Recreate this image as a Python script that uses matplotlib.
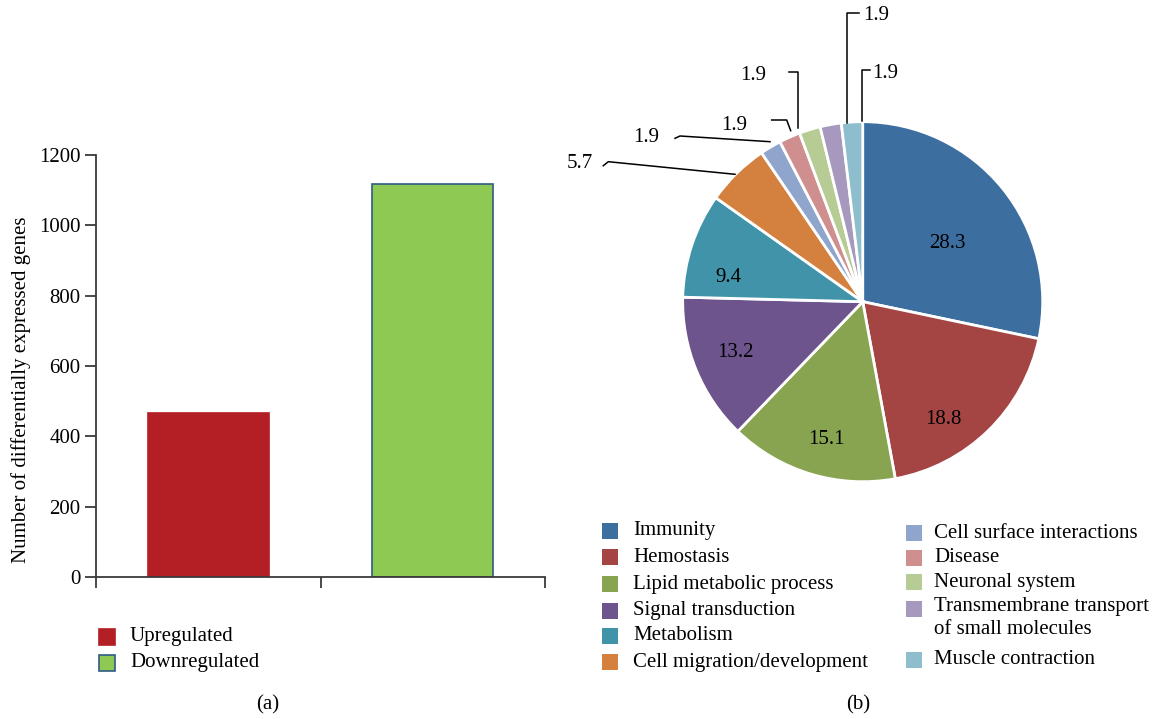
import numpy as np
import matplotlib.pyplot as plt
from matplotlib.patches import Rectangle

plt.rcParams['font.family'] = ['Liberation Serif', 'DejaVu Serif']

W, H = 1162, 719

# panel (a): regulated genes
reg_labels = ['Upregulated', 'Downregulated']
reg_counts = [465, 1117]
reg_colors = ['#b31f25', '#8ec954']
reg_edges = ['#b31f25', '#2f5b88']

# panel (b): pathway categories (%)
pathways = ['Immunity', 'Hemostasis', 'Lipid metabolic process', 'Signal transduction',
            'Metabolism', 'Cell migration/development', 'Cell surface interactions',
            'Disease', 'Neuronal system', 'Transmembrane transport\nof small molecules',
            'Muscle contraction']
pathway_share = [28.3, 18.8, 15.1, 13.2, 9.4, 5.7, 1.9, 1.9, 1.9, 1.9, 1.9]
pathway_colors = ['#3d6ea0', '#a44544', '#88a450', '#6d548c', '#4093a8', '#d48140',
                  '#8fa5cc', '#cf8f8f', '#b6cc94', '#a699bd', '#8ebdce']

FS = 15
AX_COLOR = '#3a3a3a'


def fx(x):
    return x / W


def fy(y):
    return 1 - y / H


fig = plt.figure(figsize=(W / 100, H / 100), dpi=100)

# ---- bar chart ----
ax = fig.add_axes([fx(96), fy(577), fx(545) - fx(96), fy(155) - fy(577)])
ax.bar(range(len(reg_counts)), reg_counts, width=0.54, color=reg_colors,
       edgecolor=reg_edges, linewidth=1.2)
ax.set_xlim(-0.5, 1.5)
ax.set_ylim(0, 1200)
ax.set_yticks(range(0, 1201, 200))
ax.set_xticks([-0.5, 0.5, 1.5])
ax.set_xticklabels([])
for side in ['top', 'right']:
    ax.spines[side].set_visible(False)
for side in ['left', 'bottom']:
    ax.spines[side].set_color(AX_COLOR)
    ax.spines[side].set_linewidth(1.3)
ax.tick_params(axis='both', direction='out', length=8, width=1.3, color=AX_COLOR,
               labelsize=FS, pad=3)
ax.set_ylabel('Number of differentially expressed genes', fontsize=FS)
ax.yaxis.set_label_coords(-0.145, 0.444)

for i, (lab, col, ec) in enumerate(zip(reg_labels, reg_colors, reg_edges)):
    row = 637 + i * 26
    fig.patches.append(Rectangle((fx(99), fy(row + 8)), 16 / W, 16 / H,
                                 transform=fig.transFigure, facecolor=col,
                                 edgecolor=ec, linewidth=1.2))
    fig.text(fx(130), fy(row), lab, fontsize=FS, va='center')
fig.text(fx(268), fy(705), '(a)', fontsize=FS, ha='center', va='center')

# ---- pie chart ----
PX0, PY0, R = 862.7, 301.7, 180.0


def pp(x, y):
    return (x - PX0) / R, (PY0 - y) / R


axp = fig.add_axes([fx(560), fy(500), fx(1162) - fx(560), 500 / H])
axp.pie(pathway_share, colors=pathway_colors, startangle=90, counterclock=False,
        radius=1, wedgeprops=dict(edgecolor='white', linewidth=2))
axp.set_xlim((560 - PX0) / R, (1162 - PX0) / R)
axp.set_ylim((PY0 - 500) / R, PY0 / R)
axp.axis('off')

# labels inside the large wedges (radius fraction, angle)
inner_pos = [(0.57, 34.8), (0.79, -55.6), (0.79, -104.6), (0.76, -158.2), (0.76, 169.8)]
for v, (rf, ang) in zip(pathway_share, inner_pos):
    a = np.deg2rad(ang)
    axp.text(rf * np.cos(a), rf * np.sin(a), f'{v:.1f}', fontsize=FS,
             ha='center', va='center')

# labels with leader lines for the small wedges
outer_text = [(579.5, 163), (645.8, 137), (734, 126), (753, 75), (875.8, 16), (885, 73)]
outer_lines = [
    [(603.3, 165.7), (608.3, 161.7), (735, 174.3)],
    [(675, 138.3), (680, 136), (770, 141.7)],
    [(771.7, 120), (786.7, 120), (790.7, 130.7)],
    [(789.3, 72.3), (798.3, 72.3), (798.3, 128.3)],
    [(859, 13.3), (847.3, 13.3), (847.3, 122.7)],
    [(870, 70), (861.7, 70), (861.7, 120.7)],
]
for v, (tx, ty), line in zip(pathway_share[5:], outer_text, outer_lines):
    axp.text(*pp(tx, ty), f'{v:.1f}', fontsize=FS, ha='center', va='center')
    pts = [pp(x, y) for x, y in line]
    axp.plot([p[0] for p in pts], [p[1] for p in pts], color='black', lw=1.1)

# legend for the pie
rows = [531, 557, 584, 611, 636, 662, 533, 558, 582, 609, 660]
for i, (lab, col) in enumerate(zip(pathways, pathway_colors)):
    right = i >= 6
    sx = 906 if right else 602
    tx = 934 if right else 633
    row = rows[i]
    fig.patches.append(Rectangle((fx(sx), fy(row + 8)), 16 / W, 16 / H,
                                 transform=fig.transFigure, facecolor=col,
                                 edgecolor='none'))
    if '\n' in lab:
        fig.text(fx(tx), fy(row - 12), lab, fontsize=FS, va='top', linespacing=1.3)
    else:
        fig.text(fx(tx), fy(row), lab, fontsize=FS, va='center')
fig.text(fx(858), fy(705), '(b)', fontsize=FS, ha='center', va='center')

fig.savefig('out.png', dpi=100, facecolor='white')
